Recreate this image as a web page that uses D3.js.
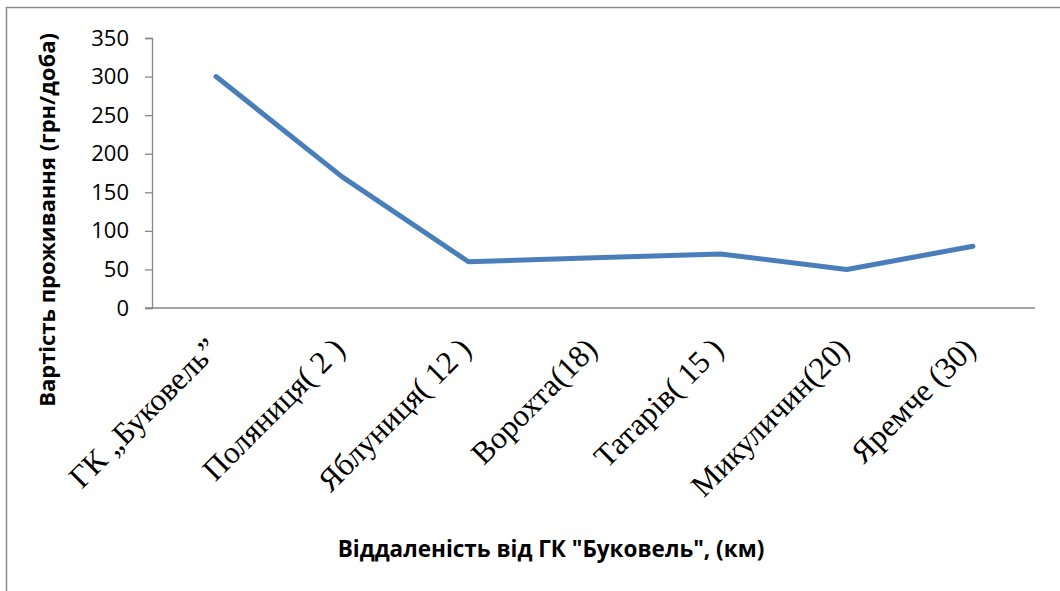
<!DOCTYPE html>
<html>
<head>
<meta charset="utf-8">
<script src="https://cdn.jsdelivr.net/npm/d3@7"></script>
<style>
  body { margin: 0; background: #fff; }
  svg { display: block; }
</style>
</head>
<body>
<div id="chart"></div>
<script>
// places with distance from Bukovel
const places = [
  "ГК „Буковель”",
  "Поляниця( 2 )",
  "Яблуниця( 12 )",
  "Ворохта(18)",
  "Татарів( 15 )",
  "Микуличин(20)",
  "Яремче (30)"
];
// price, uah per day
const prices = [300, 170, 60, 65, 70, 50, 80];
const yTicks = [0, 50, 100, 150, 200, 250, 300, 350];

const width = 1060, height = 591;

const svg = d3.select("#chart").append("svg")
  .attr("width", width).attr("height", height);

// outer chart frame (runs off the right and bottom edge)
svg.append("rect")
  .attr("x", 6.5).attr("y", 7.5)
  .attr("width", 1100).attr("height", 700)
  .attr("fill", "none")
  .attr("stroke", "#8a8a8a")
  .attr("stroke-width", 1.5);

const x = d3.scalePoint().domain(places).range([153, 1036]).padding(0.5);
const y = d3.scaleLinear().domain([0, 350]).range([308, 38]);

// y axis
const yAxis = svg.append("g")
  .attr("transform", "translate(152,0)")
  .call(d3.axisLeft(y).tickValues(yTicks).tickSize(7).tickPadding(16));
yAxis.select(".domain").attr("stroke", "#868686").attr("stroke-width", 1.3);
yAxis.selectAll(".tick line").attr("stroke", "#868686").attr("stroke-width", 1.3);
yAxis.selectAll(".tick text")
  .attr("font-family", "'Open Sans', sans-serif")
  .attr("font-size", 22)
  .attr("fill", "#000");

// x axis
const xAxis = svg.append("g")
  .attr("transform", "translate(0,308)")
  .call(d3.axisBottom(x).tickSize(0).tickPadding(0));
xAxis.select(".domain").attr("stroke", "#868686").attr("stroke-width", 1.3)
  .attr("d", "M145,0H1035");
xAxis.selectAll(".tick text")
  .attr("font-family", "'Liberation Serif', 'Times New Roman', serif")
  .attr("font-size", 31.5)
  .attr("fill", "#000")
  .attr("text-anchor", "end")
  .attr("dy", 0)
  .attr("transform", "translate(4,43) rotate(-45)");

// line
const line = d3.line()
  .x((d, i) => x(places[i]))
  .y(d => y(d));

svg.append("path")
  .datum(prices)
  .attr("d", line)
  .attr("fill", "none")
  .attr("stroke", "#4a7ebb")
  .attr("stroke-width", 5)
  .attr("stroke-linejoin", "round")
  .attr("stroke-linecap", "round");

// axis titles
svg.append("text")
  .attr("transform", "translate(55,220) rotate(-90)")
  .attr("text-anchor", "middle")
  .attr("font-family", "'Open Sans', sans-serif")
  .attr("font-weight", "bold")
  .attr("font-size", 22)
  .text("Вартість проживання (грн/доба)");

svg.append("text")
  .attr("x", 551).attr("y", 557)
  .attr("text-anchor", "middle")
  .attr("font-family", "'Open Sans', sans-serif")
  .attr("font-weight", "bold")
  .attr("font-size", 22.5)
  .text("Віддаленість від ГК \"Буковель\", (км)");
</script>
</body>
</html>
